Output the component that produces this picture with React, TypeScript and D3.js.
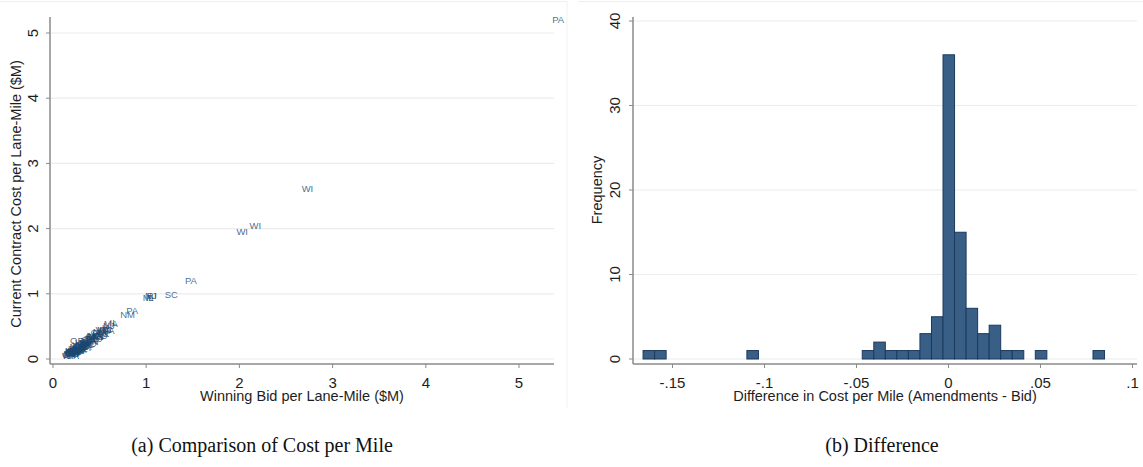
import React from "react";
import * as d3 from "d3";

// panel (a): state label, winning bid per lane-mile ($M), current contract cost ($M)
const states = [
  "PA", "WI", "WI", "WI", "PA", "SC", "MI", "NJ", "RI", "IL", "PA", "NM",
  "IL", "MA", "NJ", "IA", "MN", "VT", "NH", "OH", "OR", "CA", "NY", "TX",
  "FL", "GA", "NC", "VA", "MD", "DE", "CT", "ME", "KY", "TN", "AL", "MS",
  "LA", "AR", "MO", "KS", "NE", "SD", "ND", "MT", "WY", "CO", "UT", "NV",
  "AZ", "ID", "WA", "OK", "IN", "MI", "WI", "PA", "NJ", "IL", "OH", "NY",
  "CA", "TX", "FL", "GA", "VA", "MD", "MA", "MN", "IA", "KY", "TN", "NC",
  "WI", "PA", "OH", "MI", "IL", "NY", "TX", "CA", "FL", "GA", "VA", "NC",
  "MD", "MN", "IA", "MO", "KS", "CO", "AZ", "WA", "OR", "UT", "NV", "ID",
];
const winningBid = [
  5.42, 2.73, 2.17, 2.03, 1.48, 1.27, 1.02, 1.05, 1.06, 1.04, 0.85, 0.80,
  0.65, 0.62, 0.60, 0.57, 0.55, 0.52, 0.50, 0.48, 0.26, 0.17, 0.18, 0.19,
  0.19, 0.20, 0.20, 0.21, 0.21, 0.22, 0.22, 0.23, 0.23, 0.24, 0.24, 0.25,
  0.25, 0.26, 0.26, 0.27, 0.27, 0.28, 0.28, 0.29, 0.29, 0.30, 0.30, 0.31,
  0.31, 0.32, 0.32, 0.33, 0.33, 0.34, 0.35, 0.35, 0.36, 0.37, 0.38, 0.38,
  0.39, 0.40, 0.41, 0.42, 0.43, 0.44, 0.45, 0.46, 0.47, 0.49, 0.53, 0.57,
  0.16, 0.18, 0.20, 0.22, 0.23, 0.25, 0.27, 0.29, 0.31, 0.33, 0.35, 0.37,
  0.39, 0.41, 0.43, 0.45, 0.48, 0.51, 0.54, 0.58, 0.21, 0.24, 0.28, 0.34,
];
const contractCost = [
  5.20, 2.60, 2.04, 1.95, 1.19, 0.98, 0.94, 0.96, 0.97, 0.93, 0.74, 0.67,
  0.55, 0.53, 0.50, 0.47, 0.45, 0.44, 0.41, 0.40, 0.27, 0.06, 0.08, 0.07,
  0.10, 0.09, 0.12, 0.08, 0.11, 0.10, 0.13, 0.12, 0.15, 0.11, 0.14, 0.16,
  0.13, 0.15, 0.18, 0.17, 0.14, 0.19, 0.16, 0.18, 0.21, 0.20, 0.17, 0.22,
  0.19, 0.21, 0.24, 0.23, 0.20, 0.25, 0.24, 0.22, 0.27, 0.26, 0.29, 0.25,
  0.28, 0.31, 0.30, 0.33, 0.32, 0.35, 0.36, 0.34, 0.38, 0.37, 0.40, 0.44,
  0.05, 0.06, 0.07, 0.09, 0.08, 0.11, 0.12, 0.14, 0.15, 0.17, 0.19, 0.21,
  0.23, 0.26, 0.28, 0.31, 0.33, 0.36, 0.39, 0.43, 0.05, 0.09, 0.12, 0.18,
];
const scatterTicks = [0, 1, 2, 3, 4, 5];

// panel (b): histogram of differences
const binStart = -0.166;
const binWidth = 0.00627;
const binFreq = [
  1, 1, 0, 0, 0, 0, 0, 0, 0, 1, 0, 0, 0, 0, 0, 0, 0, 0, 0, 1,
  2, 1, 1, 1, 3, 5, 36, 15, 6, 3, 4, 1, 1, 0, 1, 0, 0, 0, 0, 1,
];
const histXTicks = [-0.15, -0.1, -0.05, 0, 0.05, 0.1];
const histXLabels = ["-.15", "-.1", "-.05", "0", ".05", ".1"];
const histYTicks = [0, 10, 20, 30, 40];

const W = 1143;
const H = 467;
const font = "'Liberation Sans', Arial, sans-serif";
const serif = "'Liberation Serif', 'Times New Roman', serif";
const axisColor = "#8a8a8a";
const gridColor = "#ececec";
const navy = "#1a476f";
const textColor = "#1e1e1e";

export default function App() {
  // left panel scales
  const xa = d3.scaleLinear().domain([0, 5]).range([53, 519]);
  const ya = d3.scaleLinear().domain([0, 5]).range([359, 33]);
  // right panel scales
  const xb = d3.scaleLinear().domain([0, 0.1]).range([948.5, 1132.5]);
  const yb = d3.scaleLinear().domain([0, 40]).range([359, 21]);

  const bins = binFreq.map((f, i) => ({
    x0: binStart + i * binWidth,
    x1: binStart + (i + 1) * binWidth,
    f,
  }));

  return (
    <svg
      width={W}
      height={H}
      style={{ position: "absolute", left: 0, top: 0, background: "#fff" }}
      fontFamily={font}
    >
      {/* faint graph region frames */}
      <line x1={0} x2={567} y1={1.5} y2={1.5} stroke="#efefef" />
      <line x1={567} x2={567} y1={1.5} y2={408} stroke="#f2f2f2" />
      <line x1={578} x2={1143} y1={1.5} y2={1.5} stroke="#efefef" />

      {/* ---------- panel (a) ---------- */}
      <g>
        {scatterTicks.map((t) => (
          <line key={"ga" + t} x1={51} x2={554} y1={ya(t)} y2={ya(t)} stroke={gridColor} strokeWidth={1.2} />
        ))}
        <line x1={50} x2={50} y1={17} y2={364} stroke={axisColor} strokeWidth={1.5} />
        <line x1={50} x2={554} y1={364} y2={364} stroke={axisColor} strokeWidth={1.5} />
        {scatterTicks.map((t) => (
          <g key={"ta" + t}>
            <line x1={46} x2={50} y1={ya(t)} y2={ya(t)} stroke={axisColor} />
            <text
              transform={`translate(38,${ya(t)}) rotate(-90)`}
              textAnchor="middle"
              fontSize={15}
              fill={textColor}
            >
              {t}
            </text>
            <line x1={xa(t)} x2={xa(t)} y1={364} y2={368} stroke={axisColor} />
            <text x={xa(t)} y={388} textAnchor="middle" fontSize={15} fill={textColor}>
              {t}
            </text>
          </g>
        ))}
        <text x={302} y={401} textAnchor="middle" fontSize={14.5} fill={textColor}>
          Winning Bid per Lane-Mile ($M)
        </text>
        <text
          transform="translate(21,194) rotate(-90)"
          textAnchor="middle"
          fontSize={14.5}
          fill={textColor}
        >
          Current Contract Cost per Lane-Mile ($M)
        </text>
        {states.map((s, i) => (
          <text
            key={"s" + i}
            x={xa(winningBid[i])}
            y={ya(contractCost[i]) + 3}
            textAnchor="middle"
            fontSize={9.5}
            fill={navy}
            fillOpacity={0.8}
          >
            {s}
          </text>
        ))}
      </g>

      {/* ---------- panel (b) ---------- */}
      <g>
        {histYTicks.map((t) => (
          <line key={"gb" + t} x1={634} x2={1137} y1={yb(t)} y2={yb(t)} stroke={gridColor} strokeWidth={1.2} />
        ))}
        {bins
          .filter((b) => b.f > 0)
          .map((b, i) => (
            <rect
              key={"b" + i}
              x={xb(b.x0)}
              y={yb(b.f)}
              width={xb(b.x1) - xb(b.x0)}
              height={yb(0) - yb(b.f)}
              fill="#3a5f87"
              stroke="#1b3a5c"
              strokeWidth={1}
            />
          ))}
        <line x1={633} x2={633} y1={17} y2={364} stroke={axisColor} strokeWidth={1.5} />
        <line x1={633} x2={1137} y1={364} y2={364} stroke={axisColor} strokeWidth={1.5} />
        {histYTicks.map((t) => (
          <g key={"tb" + t}>
            <line x1={629} x2={633} y1={yb(t)} y2={yb(t)} stroke={axisColor} />
            <text
              transform={`translate(620,${yb(t)}) rotate(-90)`}
              textAnchor="middle"
              fontSize={15}
              fill={textColor}
            >
              {t}
            </text>
          </g>
        ))}
        {histXTicks.map((t, i) => (
          <g key={"xb" + t}>
            <line x1={xb(t)} x2={xb(t)} y1={364} y2={368} stroke={axisColor} />
            <text x={xb(t)} y={388} textAnchor="middle" fontSize={15} fill={textColor}>
              {histXLabels[i]}
            </text>
          </g>
        ))}
        <text x={885} y={401} textAnchor="middle" fontSize={14.5} fill={textColor}>
          Difference in Cost per Mile (Amendments - Bid)
        </text>
        <text
          transform="translate(602,190) rotate(-90)"
          textAnchor="middle"
          fontSize={14.5}
          fill={textColor}
        >
          Frequency
        </text>
      </g>

      {/* captions */}
      <text x={262} y={452} textAnchor="middle" fontSize={20} fontFamily={serif} fill="#111">
        (a) Comparison of Cost per Mile
      </text>
      <text x={882} y={452} textAnchor="middle" fontSize={20} fontFamily={serif} fill="#111">
        (b) Difference
      </text>
    </svg>
  );
}
